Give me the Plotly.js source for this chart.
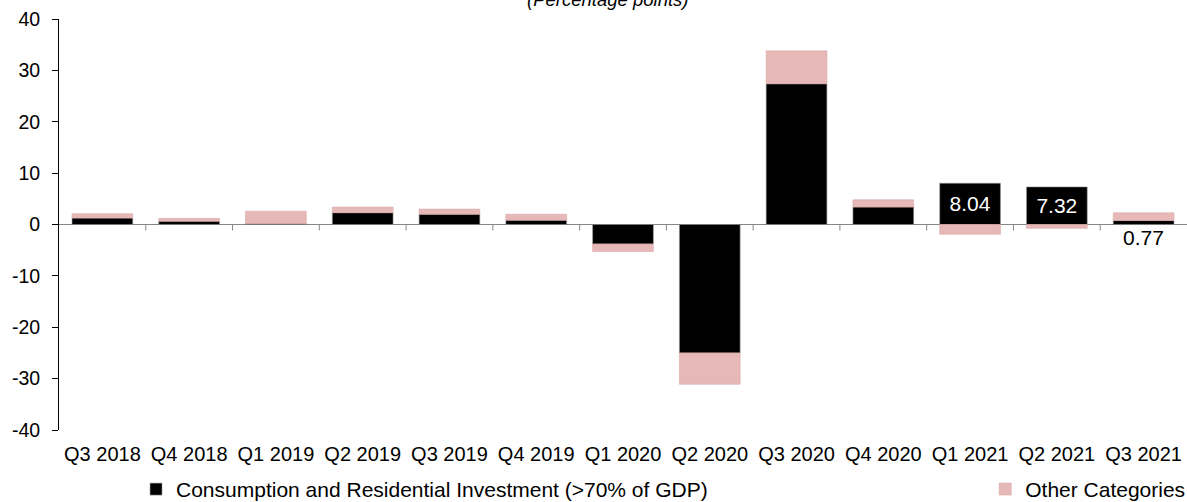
<!DOCTYPE html>
<html>
<head>
<meta charset="utf-8">
<script src="https://cdn.plot.ly/plotly-3.0.1.min.js"></script>
<style>html,body{margin:0;padding:0;background:#fff;}#chart{width:1187px;height:502px;}</style>
</head>
<body>
<div id="chart"></div>
<script>
const categories = ['Q3 2018','Q4 2018','Q1 2019','Q2 2019','Q3 2019','Q4 2019','Q1 2020','Q2 2020','Q3 2020','Q4 2020','Q1 2021','Q2 2021','Q3 2021'];
const consumption = [1.25, 0.65, 0.2, 2.3, 2.0, 0.85, -3.8, -25.0, 27.4, 3.4, 8.04, 7.32, 0.77];
const otherCategories = [0.85, 0.55, 2.4, 1.1, 1.0, 1.15, -1.45, -6.1, 6.4, 1.4, -1.9, -0.75, 1.5];
const labelledInside = ['Q1 2021', 'Q2 2021'];
const labelledBelow = ['Q3 2021'];
const yTicks = [-40, -30, -20, -10, 0, 10, 20, 30, 40];

const FONT = 'Liberation Sans, Arial, sans-serif';

const insideText = categories.map((c, i) => labelledInside.includes(c) ? consumption[i].toFixed(2) : '');

const traces = [
  {
    type: 'bar', name: 'Consumption and Residential Investment (>70% of GDP)',
    x: categories, y: consumption,
    marker: {color: '#000000', line: {color: '#9a9a9a', width: 0.6}},
    text: insideText, textposition: 'inside', insidetextanchor: 'middle',
    textfont: {color: '#ffffff', size: 21, family: FONT},
    constraintext: 'none', hoverinfo: 'x+y', legend: 'legend'
  },
  {
    type: 'bar', name: 'Other Categories',
    x: categories, y: otherCategories,
    marker: {color: '#E6B8B7', line: {color: '#d9a9a8', width: 0.6}},
    hoverinfo: 'x+y', legend: 'legend2'
  }
];

const shapes = categories.slice(0, -1).map((c, i) => ({
  type: 'line', xref: 'x', yref: 'y', x0: i + 0.5, x1: i + 0.5,
  ysizemode: 'pixel', yanchor: 0, y0: 0, y1: -6,
  line: {color: '#868686', width: 1}
}));

const annotations = categories.map((c, i) => labelledBelow.includes(c) ? {
  x: c, y: 0, xref: 'x', yref: 'y', text: consumption[i].toFixed(2),
  showarrow: false, yanchor: 'top', yshift: 1,
  font: {size: 21, color: '#000000', family: FONT}
} : null).filter(Boolean);

const layout = {
  width: 1187, height: 502,
  margin: {l: 59, r: 0, t: 19, b: 72},
  paper_bgcolor: '#ffffff', plot_bgcolor: '#ffffff',
  font: {family: FONT, color: '#000000', size: 18},
  title: {text: '(Percentage points)', font: {size: 18.5, style: 'italic', family: FONT},
          xref: 'container', x: 0.512, xanchor: 'center', yref: 'container', y: 1, yanchor: 'middle'},
  barmode: 'relative', bargap: 0.3,
  xaxis: {
    type: 'category', categoryarray: categories, showline: false, showgrid: false, zeroline: false,
    ticks: 'outside', ticklen: 6, tickcolor: 'rgba(0,0,0,0)', tickfont: {size: 20, family: FONT},
    fixedrange: true
  },
  yaxis: {
    range: [-40, 40], tickvals: yTicks, ticktext: yTicks.map(String),
    showline: true, linecolor: '#000000', linewidth: 1,
    ticks: 'outside', ticklen: 6, tickcolor: '#000000', tickwidth: 1,
    ticklabelstandoff: 8,
    showgrid: false, zeroline: true, zerolinecolor: '#868686', zerolinewidth: 1,
    tickfont: {size: 19.5, family: FONT}, fixedrange: true
  },
  showlegend: true,
  legend: {orientation: 'h', xref: 'container', yref: 'container', x: 0.1146, y: 0.025,
           xanchor: 'left', yanchor: 'middle', font: {size: 21, family: FONT}, bgcolor: 'rgba(0,0,0,0)'},
  legend2: {orientation: 'h', xref: 'container', yref: 'container', x: 0.83, y: 0.025,
            xanchor: 'left', yanchor: 'middle', font: {size: 21, family: FONT}, bgcolor: 'rgba(0,0,0,0)'},
  shapes: shapes,
  annotations: annotations
};

Plotly.newPlot('chart', traces, layout, {displayModeBar: false, staticPlot: true});
</script>
</body>
</html>
